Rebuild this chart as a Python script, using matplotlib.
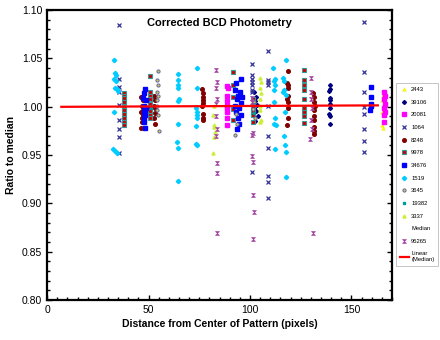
import matplotlib
matplotlib.use('Agg')
import matplotlib.pyplot as plt
from matplotlib.ticker import MultipleLocator, FormatStrFormatter

plt.rcParams['font.family'] = ['Liberation Sans', 'DejaVu Sans']

# ratio-to-median readings, grouped by star (x = distance from centre, px)
x_2443 = [165.3, 165.0, 165.5, 165.2, 165.0, 165.4]
y_2443 = [1.012, 1.007, 1.001, 0.994, 0.981, 0.978]

x_39106 = [102, 103, 102.5, 103.5, 102, 103, 104, 102.5,
           139.2, 139.5, 139.0, 139.2, 139.4, 139.2, 139.3, 139.1, 139.2, 139.3]
y_39106 = [1.015, 1.010, 1.006, 1.002, 0.998, 0.995, 0.990, 0.985,
           1.022, 1.018, 1.016, 1.009, 1.007, 1.003, 0.998, 0.992, 0.990, 0.982]

x_20081 = [88.5, 89, 88.7, 88.5, 88.9, 88.6, 88.8, 88.7, 88.6,
           166.2, 166.5, 166.0, 166.3, 166.1, 166.4, 166.2, 166.0]
y_20081 = [1.021, 1.019, 1.011, 1.006, 1.001, 0.998, 0.994, 0.988, 0.981,
           1.015, 1.011, 1.008, 1.003, 0.999, 0.994, 0.991, 0.984]

x_1064 = [35.4] * 9 + [101.0] * 8 + [108.7] * 10 + [156.0] * 8
y_1064 = [1.084, 1.028, 1.020, 1.015, 1.002, 0.986, 0.977, 0.969, 0.952,
          1.044, 1.033, 1.028, 1.025, 1.022, 1.017, 1.015, 0.932,
          1.057, 1.027, 1.025, 1.022, 1.001, 0.970, 0.957, 0.928, 0.922, 0.905,
          1.087, 1.036, 1.015, 1.000, 0.992, 0.977, 0.964, 0.953]

x_8248 = [46.5, 47.5, 46.8, 47.2, 46.5, 47.5, 47.0, 46.6, 46.4,
          52.8, 53.2, 52.6, 53.0, 53.4, 52.8, 53.3,
          76.5, 76.8, 76.6, 76.9, 76.7, 76.5, 76.8, 76.6, 76.7,
          118.5, 118.4, 118.7, 118.5, 118.6, 118.4, 118.5, 118.6, 118.5, 118.4,
          131.2, 131.6, 131.4, 131.8, 131.5, 131.3, 131.7, 131.5, 131.6, 131.4]
y_8248 = [1.010, 1.007, 1.001, 0.998, 0.994, 0.991, 0.988, 0.984, 0.978,
          1.011, 1.007, 1.001, 0.998, 0.993, 0.988, 0.982,
          1.018, 1.014, 1.010, 1.007, 1.004, 1.001, 0.992, 0.988, 0.986,
          1.037, 1.024, 1.022, 1.019, 1.011, 1.008, 1.005, 0.998, 0.988, 0.981,
          1.014, 1.010, 1.005, 1.001, 0.996, 0.990, 0.986, 0.979, 0.975, 0.972]

x_9978 = [37.9] * 10 + [50.7] * 9 + [91.5] * 5 + [101.3] * 5 + [126.4] * 9
y_9978 = [1.014, 1.011, 1.009, 1.005, 1.000, 0.996, 0.992, 0.988, 0.984, 0.981,
          1.032, 1.015, 1.011, 1.008, 1.003, 1.000, 0.995, 0.991, 0.988,
          1.036, 1.022, 1.010, 0.997, 0.986,
          1.008, 1.001, 0.995, 0.991, 0.984,
          1.038, 1.027, 1.022, 1.017, 1.008, 0.999, 0.994, 0.990, 0.983]

x_34676 = [48.5, 48.0, 47.5, 48.8, 47.8, 48.6, 48.2, 47.6, 48.4, 48.0, 47.7, 48.3,
           95.5, 93.0, 92.5, 95.0, 94.0, 96.0, 93.5, 95.5, 92.8, 94.5, 93.2, 95.8, 94.0, 94.8, 93.6,
           159.6, 159.4, 159.8, 159.5, 159.2]
y_34676 = [1.018, 1.014, 1.009, 1.007, 1.001, 0.999, 0.996, 0.994, 0.991, 0.988, 0.984, 0.978,
           1.028, 1.024, 1.017, 1.015, 1.011, 1.010, 1.008, 1.004, 1.001, 0.998, 0.994, 0.991,
           0.988, 0.982, 0.977,
           1.020, 1.010, 1.003, 1.001, 0.996]

x_1519 = [33, 33.5, 34, 33, 34, 33.5, 34.5, 35, 33, 32.5, 33.5, 34.5,
          64.5, 64.5, 64.3, 64.6, 64.8, 64.4, 64.5, 64.2, 64.6, 64.3,
          73.8, 73.8, 73.6, 73.9, 73.7, 73.8, 73.6, 73.5, 73.9,
          111.5, 112.5, 111.8, 112.2, 111.6, 112.0, 112.4, 111.8, 112.6, 112.2,
          117.5, 116.5, 116.8, 117.0, 116.4, 117.8, 117.2, 116.6, 117.4, 117.6, 117.5]
y_1519 = [1.048, 1.035, 1.033, 1.028, 1.026, 1.019, 1.018, 1.016, 0.994, 0.956, 0.954, 0.952,
          1.034, 1.027, 1.022, 1.019, 1.008, 1.006, 0.982, 0.963, 0.957, 0.923,
          1.040, 1.019, 0.999, 0.994, 0.991, 0.988, 0.980, 0.961, 0.960,
          1.040, 1.028, 1.026, 1.022, 1.017, 1.005, 0.988, 0.982, 0.981, 0.956,
          1.048, 1.030, 1.026, 1.017, 1.015, 1.012, 0.994, 0.970, 0.960, 0.953, 0.927]

x_3645 = [54.5, 54.0, 54.8, 54.2, 54.6, 54.0, 54.4, 54.2, 54.6, 55.0,
          93.0, 93.5, 92.8,
          102.0, 101.6, 102.3]
y_3645 = [1.037, 1.027, 1.022, 1.015, 1.011, 1.007, 1.001, 0.996, 0.991, 0.975,
          0.992, 0.982, 0.971,
          1.005, 0.997, 0.988]

x_19382 = [51.0, 101.5, 101.8]
y_19382 = [0.999, 1.003, 0.993]

x_3337 = [82.3, 82.0, 82.5, 82.2, 82.6, 82.1, 82.0,
          105.0, 105.3, 104.8, 105.2, 105.0, 105.1, 104.9, 105.2, 105.0]
y_3337 = [1.001, 0.991, 0.981, 0.979, 0.974, 0.969, 0.952,
          1.029, 1.025, 1.019, 1.014, 1.008, 1.001, 0.996, 0.986, 0.984]

x_95265 = [83.0, 83.5, 83.2, 83.6, 83.4, 83.0, 83.5, 83.3, 83.8, 83.5, 83.7,
           101.2, 101.0, 101.3, 101.1, 101.2, 101.5, 101.6, 101.8, 101.5,
           130.0, 130.3, 130.2, 130.5, 130.0, 130.4, 129.8, 131.0]
y_95265 = [1.038, 1.025, 1.019, 1.008, 1.003, 0.990, 0.977, 0.970, 0.942, 0.931, 0.869,
           1.009, 1.005, 0.973, 0.971, 0.949, 0.943, 0.909, 0.891, 0.863,
           1.030, 1.015, 1.008, 0.998, 0.986, 0.977, 0.966, 0.869]

x_linear = [7, 163]
y_linear = [0.9997, 1.0012]

hourglass = [(-1, 1), (1, 1), (0, 0), (1, -1), (-1, -1), (0, 0), (-1, 1)]

fig = plt.figure(figsize=(4.4, 3.4), dpi=100)
ax = fig.add_axes([0.107, 0.118, 0.784, 0.853])

ms = 2.6
ax.plot(x_2443, y_2443, ls='none', marker='^', ms=ms, color='#FFFF00', mec='#E6E600', mew=0.3, label='2443')
ax.plot(x_39106, y_39106, ls='none', marker='D', ms=2.0, color='#000080', label='39106')
ax.plot(x_20081, y_20081, ls='none', marker='s', ms=ms, color='#FF00FF', label='20081')
ax.plot(x_1064, y_1064, ls='none', marker='x', ms=2.6, color='#333399', mew=0.9, label='1064')
ax.plot(x_8248, y_8248, ls='none', marker='o', ms=ms, color='#800000', label='8248')
ax.plot(x_9978, y_9978, ls='none', marker='s', ms=ms, mfc='#CC0000', mec='#339999', mew=0.8, label='9978')
ax.plot(x_34676, y_34676, ls='none', marker='s', ms=ms, color='#0000FF', label='34676')
ax.plot(x_1519, y_1519, ls='none', marker='D', ms=2.2, color='#00CCFF', label='1519')
ax.plot(x_3645, y_3645, ls='none', marker='o', ms=2.3, mfc='#CCCC66', mec='#666699', mew=0.7, label='3645')
ax.plot(x_19382, y_19382, ls='none', marker='s', ms=2.0, color='#009999', label='19382')
ax.plot(x_3337, y_3337, ls='none', marker='^', ms=2.2, color='#CCEE33', label='3337')
ax.plot([], [], ls='none', marker='None', label='Median')
ax.plot(x_95265, y_95265, ls='none', marker=hourglass, ms=2.8, mfc='#993399', mec='#AA55AA', mew=0.5, label='95265')
ax.plot(x_linear, y_linear, color='#FF0000', lw=1.6, label='Linear\n(Median)')

ax.set_xlim(0, 170)
ax.set_ylim(0.80, 1.10)
ax.xaxis.set_major_locator(MultipleLocator(50))
ax.xaxis.set_minor_locator(MultipleLocator(5))
ax.yaxis.set_major_locator(MultipleLocator(0.05))
ax.yaxis.set_minor_locator(MultipleLocator(0.01))
ax.yaxis.set_major_formatter(FormatStrFormatter('%.2f'))
ax.tick_params(which='both', direction='in', right=True, labelsize=7.5, width=1)
ax.tick_params(which='major', length=3.5)
ax.tick_params(which='minor', length=2.5)
for sp in ax.spines.values():
    sp.set_linewidth(1.6)

ax.set_xlabel('Distance from Center of Pattern (pixels)', fontsize=7.5, fontweight='bold', labelpad=3)
ax.set_ylabel('Ratio to median', fontsize=7.5, fontweight='bold', labelpad=4)
ax.text(0.5, 0.955, 'Corrected BCD Photometry', transform=ax.transAxes, ha='center', va='center',
        fontsize=8, fontweight='bold')

leg = fig.legend(loc='upper left', bbox_to_anchor=(0.9, 0.755), fontsize=4.2, frameon=True,
                 fancybox=False, edgecolor='#AAAAAA', handlelength=1.6, handletextpad=0.4,
                 labelspacing=1.3, borderpad=0.6, borderaxespad=0)
leg.get_frame().set_linewidth(0.6)

fig.savefig('out.png', dpi=100)
